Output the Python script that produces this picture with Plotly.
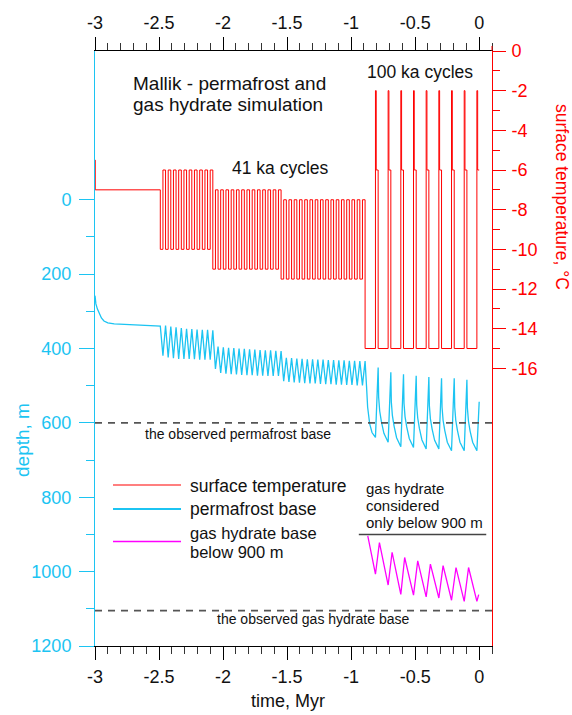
import plotly.graph_objects as go

# ------------------------------------------------------------------ data
# surface temperature (deg C), step series
temp_init_t = [-3.0, -2.998]
temp_init_v = [-5.5, -7.0]

# 41 ka cycle blocks: start times of each cycle (cold phase first), Myr
blk1_start = [-2.490, -2.449, -2.408, -2.367, -2.326, -2.285, -2.244, -2.203, -2.162, -2.121]
blk2_start = [-2.080, -2.039, -1.998, -1.957, -1.916, -1.875, -1.834, -1.793, -1.752,
              -1.711, -1.670, -1.629, -1.588]
blk3_start = [-1.547, -1.506, -1.465, -1.424, -1.383, -1.342, -1.301, -1.260, -1.219,
              -1.178, -1.137, -1.096, -1.055, -1.014, -0.973, -0.932]
blk_cold = [-10.0, -11.0, -11.5]
blk_warm = [-6.0, -7.0, -7.5]
half_41 = 0.0205
end_41 = -0.891

# 100 ka cycles: interglacial onsets (Myr) and temperatures
ig_onset = [-0.810, -0.711, -0.612, -0.513, -0.414, -0.315, -0.216, -0.117, -0.018]
t_glacial, t_peak, t_interglacial = -15.0, -2.0, -6.0
peak_len, ig_len = 0.006, 0.021
t_end = 0.0

# permafrost base depth (m)
perm_init_t = [-3.0, -2.993, -2.981, -2.965, -2.950, -2.930, -2.900, -2.850, -2.700, -2.490]
perm_init_d = [258, 280, 294, 309, 318, 326, 331, 334, 337, 340]
blk1_deep = [419, 424, 426, 428, 428, 428, 429, 430, 430, 430]
blk1_shallow = [338, 341, 343, 345, 347, 348, 349, 350, 350, 351]
blk2_deep = [455, 466, 468, 469, 470, 471, 472, 472, 473, 473, 474, 474, 474]
blk2_shallow = [395, 397, 398, 399, 400, 401, 402, 403, 404, 405, 405, 406, 407]
blk3_deep = [488, 490, 491, 492, 493, 494, 494, 495, 496, 496, 497, 497, 498, 498, 499, 499]
blk3_shallow = [425, 426, 427, 428, 429, 429, 430, 430, 431, 431, 432, 432, 433, 433, 434, 434]
perm100_t = [-0.880, -0.871, -0.855, -0.837, -0.810,
             -0.789, -0.785, -0.777, -0.764, -0.744, -0.711,
             -0.690, -0.686, -0.678, -0.665, -0.645, -0.612,
             -0.591, -0.587, -0.579, -0.566, -0.546, -0.513,
             -0.492, -0.488, -0.480, -0.467, -0.447, -0.414,
             -0.393, -0.389, -0.381, -0.368, -0.348, -0.315,
             -0.294, -0.290, -0.282, -0.269, -0.249, -0.216,
             -0.195, -0.191, -0.183, -0.170, -0.150, -0.117,
             -0.096, -0.092, -0.084, -0.071, -0.051, -0.018,
             0.000]
perm100_d = [500, 558, 603, 626, 639,
             451, 531, 568, 596, 628, 652,
             464, 544, 580, 608, 640, 664,
             469, 548, 583, 611, 642, 666,
             473, 552, 587, 615, 646, 670,
             477, 554, 589, 616, 647, 670,
             480, 558, 593, 620, 652, 675,
             480, 558, 593, 620, 652, 675,
             484, 560, 595, 622, 652, 675,
             543]

# gas hydrate base below 900 m (m)
gh_t = [-0.870, -0.810, -0.779, -0.711, -0.680, -0.612, -0.582, -0.513, -0.480, -0.414,
        -0.381, -0.315, -0.282, -0.216, -0.181, -0.117, -0.083, -0.018, -0.004]
gh_d = [904, 1007, 922, 1036, 948, 1061, 962, 1063, 971, 1068,
        980, 1071, 984, 1077, 989, 1080, 989, 1080, 1062]

obs_permafrost_base = 600
obs_gas_hydrate_base = 1105
gh_limit = 900
gh_limit_t = [-0.94, 0.055]

time_ticks = [-3, -2.5, -2, -1.5, -1, -0.5, 0]
time_labels = ["-3", "-2.5", "-2", "-1.5", "-1", "-0.5", "0"]
depth_ticks = [0, 200, 400, 600, 800, 1000, 1200]
depth_minor = [100, 300, 500, 700, 900, 1100]
temp_ticks = [0, -2, -4, -6, -8, -10, -12, -14, -16]
temp_minor = [-1, -3, -5, -7, -9, -11, -13, -15]

# ------------------------------------------------------------------ build series
tt = list(temp_init_t)
tv = list(temp_init_v)
for starts, cold, warm in zip([blk1_start, blk2_start, blk3_start], blk_cold, blk_warm):
    for s in starts:
        tt += [s, s + half_41]
        tv += [cold, warm]
tt.append(end_41)
tv.append(t_glacial)
for w in ig_onset:
    tt += [w, w + peak_len, w + ig_len]
    tv += [t_peak, t_interglacial, t_glacial]
keep = [(a, b) for a, b in zip(tt, tv) if a <= t_end]
tt = [a for a, b in keep] + [t_end]
tv = [b for a, b in keep] + [keep[-1][1]]

pt = list(perm_init_t)
pd_ = list(perm_init_d)
for starts, deep, shallow in zip([blk1_start, blk2_start, blk3_start],
                                 [blk1_deep, blk2_deep, blk3_deep],
                                 [blk1_shallow, blk2_shallow, blk3_shallow]):
    for s, d1, d2 in zip(starts, deep, shallow):
        pt += [s + half_41, s + 2 * half_41]
        pd_ += [d1, d2]
pt += perm100_t
pd_ += perm100_d

# ------------------------------------------------------------------ figure
CYAN = "#1CC4F2"
RED = "#FF0000"
MAG = "#FF00FF"
GREY = "#555555"
FONT = "Liberation Sans, Arial, sans-serif"
TICK = 18

fig = go.Figure()
fig.add_trace(go.Scatter(x=tt, y=tv, mode="lines", line=dict(color=RED, width=1, shape="hv"),
                         xaxis="x", yaxis="y2", hoverinfo="skip"))
fig.add_trace(go.Scatter(x=pt, y=pd_, mode="lines", line=dict(color=CYAN, width=1.3),
                         xaxis="x", yaxis="y", hoverinfo="skip"))
fig.add_trace(go.Scatter(x=gh_t, y=gh_d, mode="lines", line=dict(color=MAG, width=1.3),
                         xaxis="x", yaxis="y", hoverinfo="skip"))
fig.add_trace(go.Scatter(x=[-3, 0.1], y=[obs_permafrost_base] * 2, mode="lines",
                         line=dict(color=GREY, width=1.6, dash="7px,6px"), hoverinfo="skip"))
fig.add_trace(go.Scatter(x=[-3, 0.1], y=[obs_gas_hydrate_base] * 2, mode="lines",
                         line=dict(color=GREY, width=1.6, dash="7px,6px"), hoverinfo="skip"))
fig.add_trace(go.Scatter(x=gh_limit_t, y=[gh_limit] * 2, mode="lines",
                         line=dict(color="#444444", width=1.5), hoverinfo="skip"))
fig.add_trace(go.Scatter(x=[-3, 0.1], y=[None, None], xaxis="x2", yaxis="y",
                         mode="lines", hoverinfo="skip"))

W, H = 572, 715
L, R, T, B = 95, 80, 51, 69
PW, PH = W - L - R, H - T - B


def px(x):
    return (x - L) / PW


def py(y):
    return (H - B - y) / PH


axis_common = dict(showgrid=False, zeroline=False, showline=True, linewidth=1,
                   ticks="outside", tickwidth=1)
minor_time = [round(-3 + 0.1 * i, 1) for i in range(32) if i % 5]

fig.update_layout(
    width=W, height=H, margin=dict(l=L, r=R, t=T, b=B),
    paper_bgcolor="white", plot_bgcolor="white", showlegend=False,
    font=dict(family=FONT, size=17, color="#111111"),
    xaxis=dict(range=[-3, 0.1], tickmode="array", tickvals=time_ticks, ticktext=time_labels,
               linecolor="black", tickcolor="black", ticklen=13, ticklabelstandoff=1,
               minor=dict(tickvals=minor_time, ticklen=7, tickcolor="#333333", ticks="outside"),
               tickfont=dict(size=TICK, color="#111111"), anchor="y", **axis_common),
    xaxis2=dict(range=[-3, 0.1], overlaying="x", side="top", anchor="y", tickmode="array",
                tickvals=time_ticks, ticktext=time_labels,
                linecolor="black", tickcolor="black", ticklen=13, ticklabelstandoff=1,
                minor=dict(tickvals=minor_time, ticklen=7, tickcolor="#333333", ticks="outside"),
                tickfont=dict(size=TICK, color="#111111"), **axis_common),
    yaxis=dict(range=[1200, -400], tickmode="array", tickvals=depth_ticks,
               ticktext=[str(v) for v in depth_ticks], linecolor=CYAN, tickcolor=CYAN,
               ticklen=15, ticklabelstandoff=4,
               minor=dict(tickvals=depth_minor, ticklen=8, tickcolor=CYAN, ticks="outside"),
               tickfont=dict(size=TICK, color=CYAN), anchor="x", **axis_common),
    yaxis2=dict(range=[-30, 0], overlaying="y", side="right", anchor="x", tickmode="array",
                tickvals=temp_ticks, ticktext=[str(v) for v in temp_ticks],
                linecolor=RED, tickcolor=RED, ticklen=13, ticklabelstandoff=2,
                minor=dict(tickvals=temp_minor, ticklen=7, tickcolor=RED, ticks="outside"),
                tickfont=dict(size=TICK, color=RED), **axis_common),
)

ann = []


def text(s, x, y, size, color="#111111", xanchor="left", angle=0):
    ann.append(dict(text=s, x=px(x), y=py(y), xref="paper", yref="paper", showarrow=False,
                    xanchor=xanchor, yanchor="middle", textangle=angle,
                    font=dict(family=FONT, size=size, color=color)))


text("Mallik - permafrost and", 131, 83, 19)
text("gas hydrate simulation", 131, 104, 19)
text("100 ka cycles", 365, 72, 17.5)
text("41 ka cycles", 230, 168, 17.5)
text("the observed permafrost base", 143, 434, 14)
text("the observed gas hydrate base", 411, 619, 14, xanchor="right")
text("gas hydrate", 364, 488, 15)
text("considered", 364, 505, 15)
text("only below 900 m", 364, 522, 15)
text("surface temperature", 188, 486, 17.5)
text("permafrost base", 188, 509, 17.5)
text("gas hydrate base", 188, 532.5, 16.5)
text("below 900 m", 188, 552, 16.5)
text("time, Myr", 288, 701, 18, xanchor="center")
text("depth, m", 22, 440, 19, color=CYAN, xanchor="center", angle=-90)
text("surface temperature, °C", 562, 197, 17.5, color=RED, xanchor="center", angle=90)
fig.update_layout(annotations=ann)

shapes = []
for ypix, col, wd in [(485, RED, 1.2), (509, CYAN, 2.2), (541.5, MAG, 1.5)]:
    shapes.append(dict(type="line", xref="paper", yref="paper", x0=px(113), x1=px(181),
                       y0=py(ypix), y1=py(ypix), line=dict(color=col, width=wd)))
shapes.append(dict(type="line", xref="paper", yref="paper", x0=1, x1=1, y0=1, y1=py(46),
                   line=dict(color=RED, width=1)))
fig.update_layout(shapes=shapes)

fig.write_html("out.html")
